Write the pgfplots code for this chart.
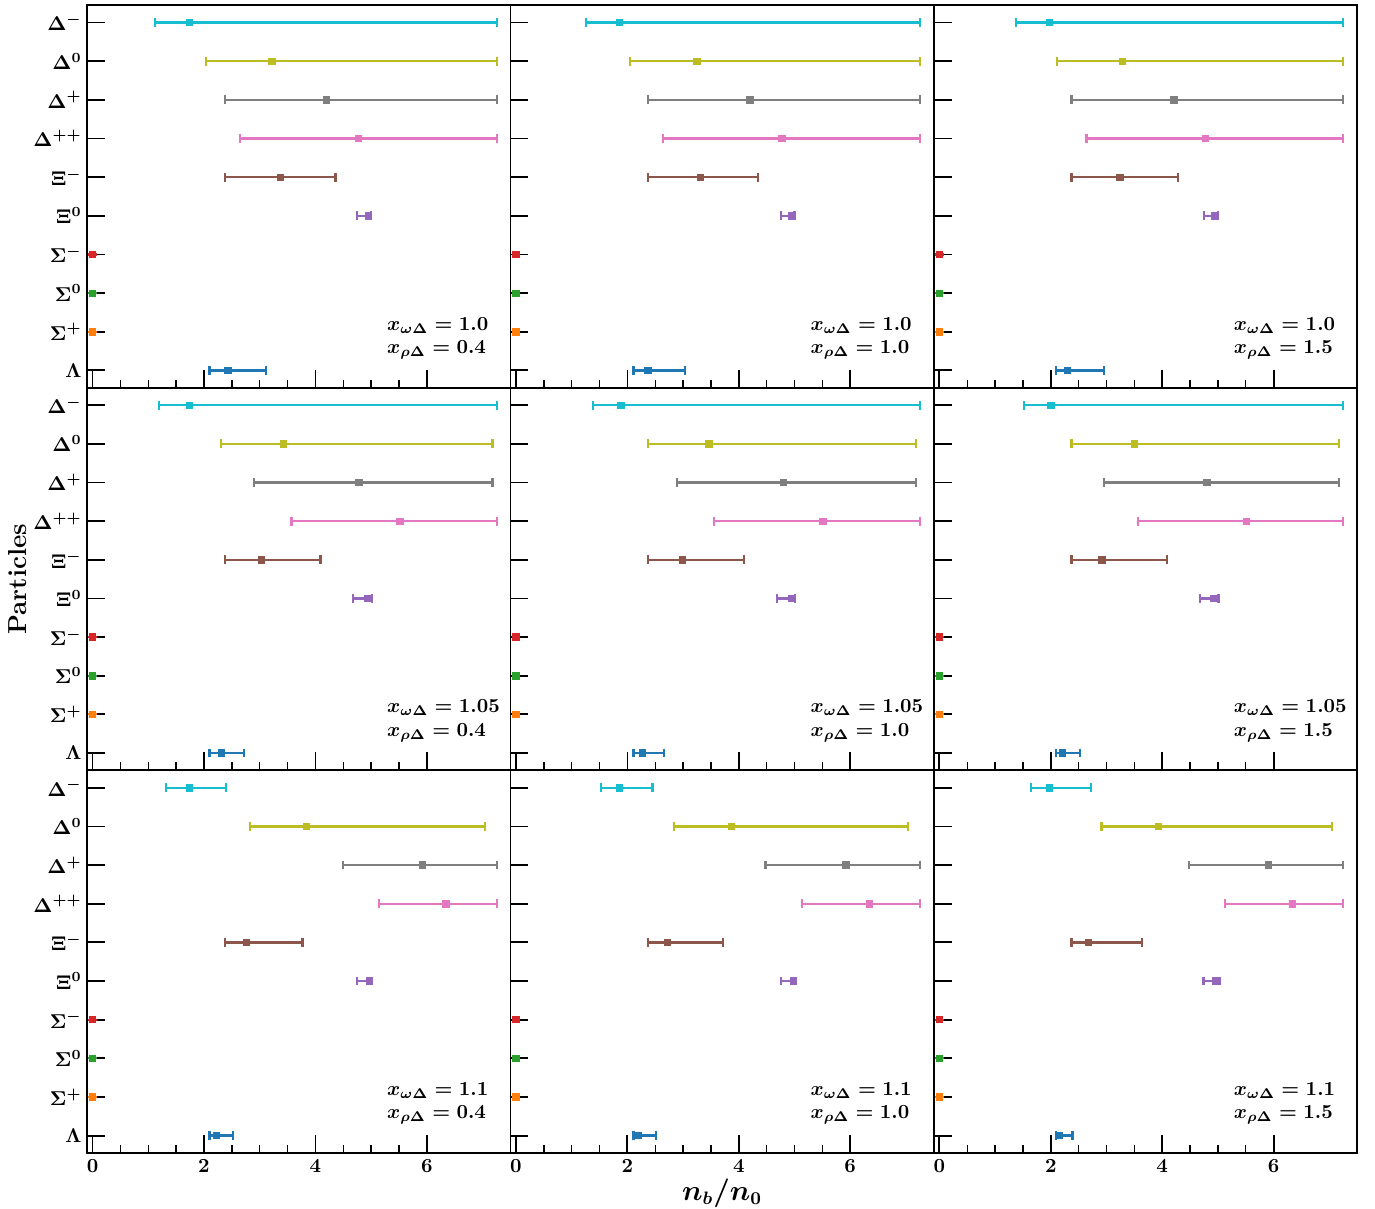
\documentclass[border=0pt]{standalone}
\usepackage{pgfplots}
\usepackage{pgfplotstable}
\pgfplotsset{compat=1.18}
\definecolor{c0}{HTML}{1F77B4}
\definecolor{c1}{HTML}{FF7F0E}
\definecolor{c2}{HTML}{2CA02C}
\definecolor{c3}{HTML}{D62728}
\definecolor{c4}{HTML}{9467BD}
\definecolor{c5}{HTML}{8C564B}
\definecolor{c6}{HTML}{E377C2}
\definecolor{c7}{HTML}{7F7F7F}
\definecolor{c8}{HTML}{BCBD22}
\definecolor{c9}{HTML}{17BECF}

% y: 0 Lambda, 1 Sigma+, 2 Sigma0, 3 Sigma-, 4 Xi0, 5 Xi-, 6 Delta++, 7 Delta+, 8 Delta0, 9 Delta-
\pgfplotstableread{
y x lo hi
0 2.43 2.10 3.11
1 0 0 0
2 0 0 0
3 0 0 0
4 4.95 4.75 5.00
5 3.37 2.38 4.36
6 4.77 2.64 7.26
7 4.20 2.38 7.26
8 3.22 2.04 7.26
9 1.74 1.12 7.26
}\tA
\pgfplotstableread{
y x lo hi
0 2.37 2.11 3.03
1 0 0 0
2 0 0 0
3 0 0 0
4 4.95 4.75 5.00
5 3.31 2.37 4.35
6 4.77 2.64 7.25
7 4.20 2.37 7.25
8 3.25 2.04 7.25
9 1.86 1.26 7.25
}\tB
\pgfplotstableread{
y x lo hi
0 2.30 2.10 2.96
1 0 0 0
2 0 0 0
3 0 0 0
4 4.94 4.75 5.00
5 3.24 2.37 4.29
6 4.77 2.64 7.25
7 4.21 2.37 7.25
8 3.28 2.11 7.25
9 1.97 1.38 7.25
}\tC
\pgfplotstableread{
y x lo hi
0 2.31 2.10 2.72
1 0 0 0
2 0 0 0
3 0 0 0
4 4.94 4.68 5.01
5 3.03 2.38 4.09
6 5.52 3.57 7.26
7 4.78 2.90 7.18
8 3.42 2.31 7.18
9 1.74 1.19 7.26
}\tD
\pgfplotstableread{
y x lo hi
0 2.27 2.11 2.66
1 0 0 0
2 0 0 0
3 0 0 0
4 4.94 4.68 5.01
5 2.99 2.37 4.09
6 5.51 3.56 7.25
7 4.80 2.89 7.18
8 3.46 2.37 7.18
9 1.88 1.385 7.25
}\tE
\pgfplotstableread{
y x lo hi
0 2.21 2.10 2.52
1 0 0 0
2 0 0 0
3 0 0 0
4 4.93 4.68 5.01
5 2.92 2.37 4.09
6 5.51 3.56 7.25
7 4.80 2.96 7.18
8 3.50 2.37 7.18
9 2.00 1.52 7.25
}\tF
\pgfplotstableread{
y x lo hi
0 2.22 2.10 2.52
1 0 0 0
2 0 0 0
3 0 0 0
4 4.97 4.75 5.00
5 2.76 2.38 3.77
6 6.34 5.14 7.26
7 5.92 4.49 7.26
8 3.84 2.83 7.05
9 1.74 1.32 2.39
}\tG
\pgfplotstableread{
y x lo hi
0 2.19 2.11 2.51
1 0 0 0
2 0 0 0
3 0 0 0
4 4.98 4.75 5.02
5 2.72 2.37 3.71
6 6.34 5.14 7.25
7 5.92 4.48 7.25
8 3.87 2.84 7.04
9 1.86 1.52 2.45
}\tH
\pgfplotstableread{
y x lo hi
0 2.15 2.10 2.39
1 0 0 0
2 0 0 0
3 0 0 0
4 4.96 4.74 5.03
5 2.67 2.37 3.63
6 6.34 5.13 7.25
7 5.91 4.48 7.25
8 3.93 2.91 7.05
9 1.98 1.65 2.72
}\tI

\pgfplotsset{
  panel/.style={
    scale only axis, width=211.7pt, height=191.3pt,
    xmin=-0.1, xmax=7.5, ymin=-0.45, ymax=9.45,
    xtick={0,2,4,6}, minor x tick num=3,
    ytick={0,...,9},
    yticklabels={$\Lambda$,$\Sigma^{+}$,$\Sigma^{0}$,$\Sigma^{-}$,$\Xi^{0}$,$\Xi^{-}$,$\Delta^{++}$,$\Delta^{+}$,$\Delta^{0}$,$\Delta^{-}$},
    tick align=inside, xtick pos=bottom, ytick pos=left,
    major tick length=9pt, minor tick length=4pt,
    major tick style={line width=0.9pt, black},
    minor tick style={line width=0.7pt, black},
    axis line style={line width=0.9pt},
    tick label style={font=\boldmath\fontsize{10}{12}\selectfont},
    yticklabel style={inner sep=0.5pt, xshift=-2pt},
  },
  eb/.style={color=#1, mark=square*, mark size=1.6pt, only marks,
    error bars/.cd, x dir=both, x explicit,
    error bar style={line width=1.2pt, color=#1},
    error mark options={rotate=90, line width=1.1pt, mark size=2.2pt, color=#1}},
}
\newcommand{\drawpanel}[3]{%
  \pgfplotsinvokeforeach{0,...,9}{%
    \addplot[restrict y to domain=##1:##1, eb=c##1] table[x=x, y=y,
      x error plus expr=\thisrow{hi}-\thisrow{x},
      x error minus expr=\thisrow{x}-\thisrow{lo}] {#1};
  }
  \node[anchor=base west, inner sep=0pt, font=\boldmath\fontsize{10}{12}\selectfont] at (axis description cs:0.708,0.151) {$x_{\omega\Delta} = #2$};
  \node[anchor=base west, inner sep=0pt, font=\boldmath\fontsize{10}{12}\selectfont] at (axis description cs:0.708,0.089) {$x_{\rho\Delta} = #3$};
}

\begin{document}
\begin{tikzpicture}
\path[use as bounding box] (-43.5pt,-28pt) rectangle (644pt,576.5pt);
% row 0
\begin{axis}[panel, at={(0pt,382.6pt)}, xticklabels={}]
\drawpanel{\tA}{1.0}{0.4}
\end{axis}
\begin{axis}[panel, at={(211.7pt,382.6pt)}, xticklabels={}, yticklabels={}]
\drawpanel{\tB}{1.0}{1.0}
\end{axis}
\begin{axis}[panel, at={(423.4pt,382.6pt)}, xticklabels={}, yticklabels={}]
\drawpanel{\tC}{1.0}{1.5}
\end{axis}
% row 1
\begin{axis}[panel, at={(0pt,191.3pt)}, xticklabels={},
  ylabel={Particles},
  ylabel style={at={(axis description cs:-0.163,0.5)}, anchor=center, font=\bfseries\fontsize{13}{15}\selectfont}]
\drawpanel{\tD}{1.05}{0.4}
\end{axis}
\begin{axis}[panel, at={(211.7pt,191.3pt)}, xticklabels={}, yticklabels={}]
\drawpanel{\tE}{1.05}{1.0}
\end{axis}
\begin{axis}[panel, at={(423.4pt,191.3pt)}, xticklabels={}, yticklabels={}]
\drawpanel{\tF}{1.05}{1.5}
\end{axis}
% row 2
\begin{axis}[panel, at={(0pt,0pt)}]
\drawpanel{\tG}{1.1}{0.4}
\end{axis}
\begin{axis}[panel, at={(211.7pt,0pt)}, yticklabels={},
  xlabel={$n_b/n_0$},
  xlabel style={at={(axis description cs:0.5,0)}, yshift=-20pt, anchor=center, font=\boldmath\fontsize{13.5}{15}\selectfont}]
\drawpanel{\tH}{1.1}{1.0}
\end{axis}
\begin{axis}[panel, at={(423.4pt,0pt)}, yticklabels={}]
\drawpanel{\tI}{1.1}{1.5}
\end{axis}
\end{tikzpicture}
\end{document}
